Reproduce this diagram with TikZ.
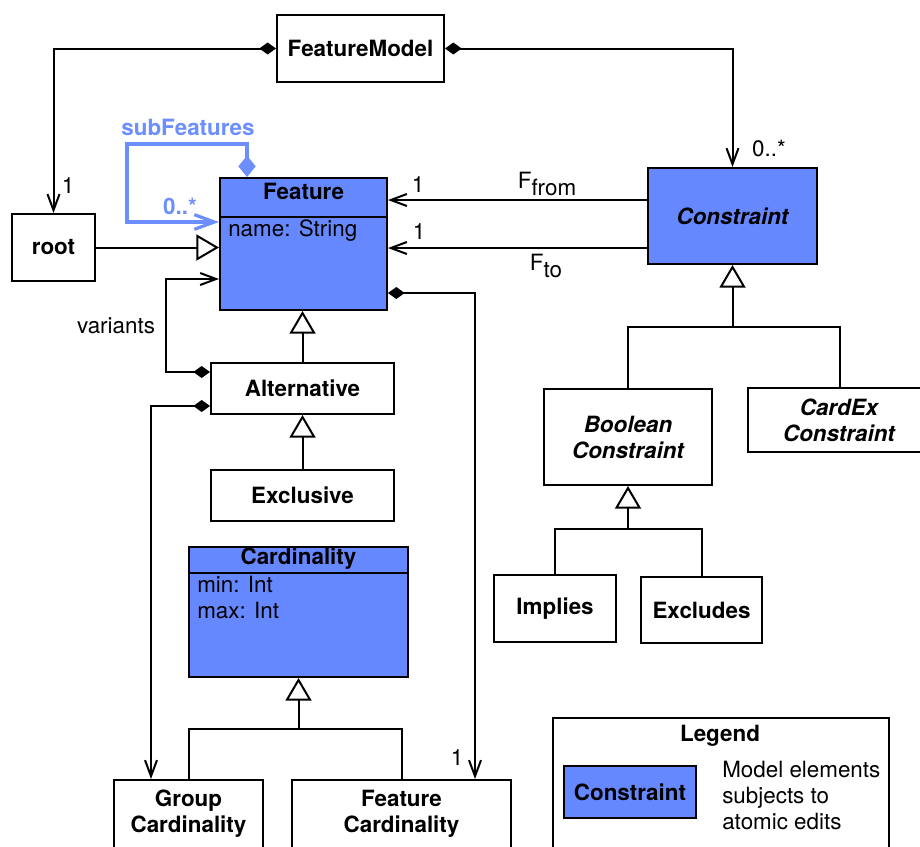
\documentclass[tikz,border=0pt]{standalone}
\usepackage{fontspec}
\setmainfont{TeX Gyre Heros}
\usetikzlibrary{arrows.meta,calc}
\definecolor{umlblue}{RGB}{102,136,255}
\definecolor{linkblue}{RGB}{108,142,255}
\newcommand\ubox[7]{\node[box,#2,minimum width={(#5-#3)*0.75pt},minimum height={(#6-#4)*0.75pt}] (#1) at ({(#3+#5)/2},{(#4+#6)/2}) {#7};}
\begin{document}
\begin{tikzpicture}[x=0.75pt,y=-0.75pt,
  every node/.style={inner sep=0pt, font=\fontsize{16.8}{19.5}\selectfont},
  box/.style={draw, line width=1.5pt, align=center, font=\fontsize{16.8}{19.5}\selectfont\bfseries},
  bold/.style={font=\fontsize{16.8}{19.5}\selectfont\bfseries},
  ital/.style={font=\fontsize{16.8}{19.5}\selectfont\bfseries\itshape},
  conn/.style={line width=1.5pt},
  openarr/.style={conn, -{Straight Barb[length=12pt,width=9pt]}},
  comparr/.style={conn, {Diamond[length=12.5pt,width=9pt]}-{Straight Barb[length=12pt,width=9pt]}},
  gen/.style={conn, -{Triangle[open,length=17pt,width=19.5pt,fill=white]}},
  subarr/.style={line width=2.4pt, draw=linkblue, {Diamond[length=16pt,width=13pt]}-{Straight Barb[length=15pt,width=11pt]}}
]
\clip (0,0) rectangle (920,846);
\fill[white] (0,0) rectangle (920,846);

% boxes
\ubox{fm}{}{277}{15}{444}{82}{FeatureModel}
\ubox{root}{}{12}{214}{95}{281}{root}
\ubox{feat}{fill=umlblue}{220}{178}{387}{310}{}
\ubox{con}{fill=umlblue,ital}{648}{168}{817}{264}{Constraint}
\ubox{alt}{}{211}{363}{394}{414}{Alternative}
\ubox{exc}{}{211}{470}{394}{521}{Exclusive}
\ubox{card}{fill=umlblue}{189}{547}{408}{677}{}
\ubox{gcard}{}{114}{780}{263}{880}{}
\ubox{fcard}{}{292}{780}{511}{880}{}
\ubox{bool}{ital}{544}{389}{712}{485}{Boolean\\Constraint}
\ubox{cardex}{}{748}{388}{935}{452}{}
\ubox{imp}{}{494}{575}{616}{642}{Implies}
\ubox{excl}{}{641}{577}{762}{643}{Excludes}
\ubox{leg}{}{553}{718}{889}{890}{}
\ubox{legc}{fill=umlblue}{564}{766}{696}{818}{Constraint}

% separators and inner texts
\draw[conn] (feat.west |- 0,217) -- (feat.east |- 0,217);
\draw[conn] (card.west |- 0,573) -- (card.east |- 0,573);
\node[bold] (featt) at (feat.north |- 0,191) {Feature};
\node[anchor=west] (feata) at (228,231) {name: String};
\node[bold] (cardt) at (card.north |- 0,559) {Cardinality};
\node[anchor=west] (cardmin) at (197,584) {min: Int};
\node[anchor=west] (cardmax) at (197,610) {max: Int};
\node[bold,align=center] (gcardt) at (gcard.north |- 0,814) {Group\\Cardinality};
\node[bold,align=center] (fcardt) at (fcard.north |- 0,814) {Feature\\Cardinality};
\node[ital,align=center] (cardext) at (839,420) {CardEx\\Constraint};
\node[bold] (legt) at (720,736) {Legend};
\node[anchor=west,align=left,font=\fontsize{16.8}{19.5}\selectfont] (legd) at (722,795) {Model elements\\subjects to\\atomic edits};

% helper coordinates
\coordinate (fcx) at (475,0);
\coordinate (gcx) at (151,0);
\coordinate (cex) at (840,0);

% associations
\draw[comparr] (fm.west) -| (root.north);
\draw[comparr] (fm.east) -| (con.north);
\draw[openarr] (con.west |- 0,200) -- (feat.east |- 0,200);
\draw[openarr] (con.west |- 0,248) -- (feat.east |- 0,248);
\draw[comparr] (feat.east |- 0,293) -| (fcard.north -| fcx);
\draw[comparr] (alt.west |- 0,372) -| (166,279) -- (feat.west |- 0,279);
\draw[comparr] (alt.west |- 0,406) -| (gcard.north -| gcx);
\draw[subarr] (feat.north -| 247,0) -- (247,144) -| (127,222) -- (feat.west |- 0,222);

% generalizations
\draw[gen] (root.east) -- (feat.west |- root.east);
\draw[gen] (alt.north) -- (alt.north |- feat.south);
\draw[gen] (exc.north) -- (alt.south);
\draw[conn] (gcard.north) |- (card.south |- 0,729) -| (fcard.north);
\draw[gen] (card.south |- 0,729) -- (card.south);
\draw[conn] (bool.north) |- (con.south |- 0,327) -| (cardex.north -| cex);
\draw[gen] (con.south |- 0,327) -- (con.south);
\draw[conn] (imp.north) |- (bool.south |- 0,529) -| (excl.north);
\draw[gen] (bool.south |- 0,529) -- (bool.south);

% labels
\node (l1) at (68,186) {1};
\node (l0) at (769,149) {0..*};
\node (lff1) at (418,185) {1};
\node (ffrom) at (547,184) {F\raisebox{-5.5pt}{from}};
\node (lft1) at (419,232) {1};
\node (fto) at (546,266) {F\raisebox{-5.5pt}{to}};
\node[bold,text=linkblue] (subf) at (188,127) {subFeatures};
\node[bold,text=linkblue] (sub0) at (180,206) {0..*};
\node (var) at (116,326) {variants};
\node (lfc1) at (457,758) {1};
\end{tikzpicture}
\end{document}
